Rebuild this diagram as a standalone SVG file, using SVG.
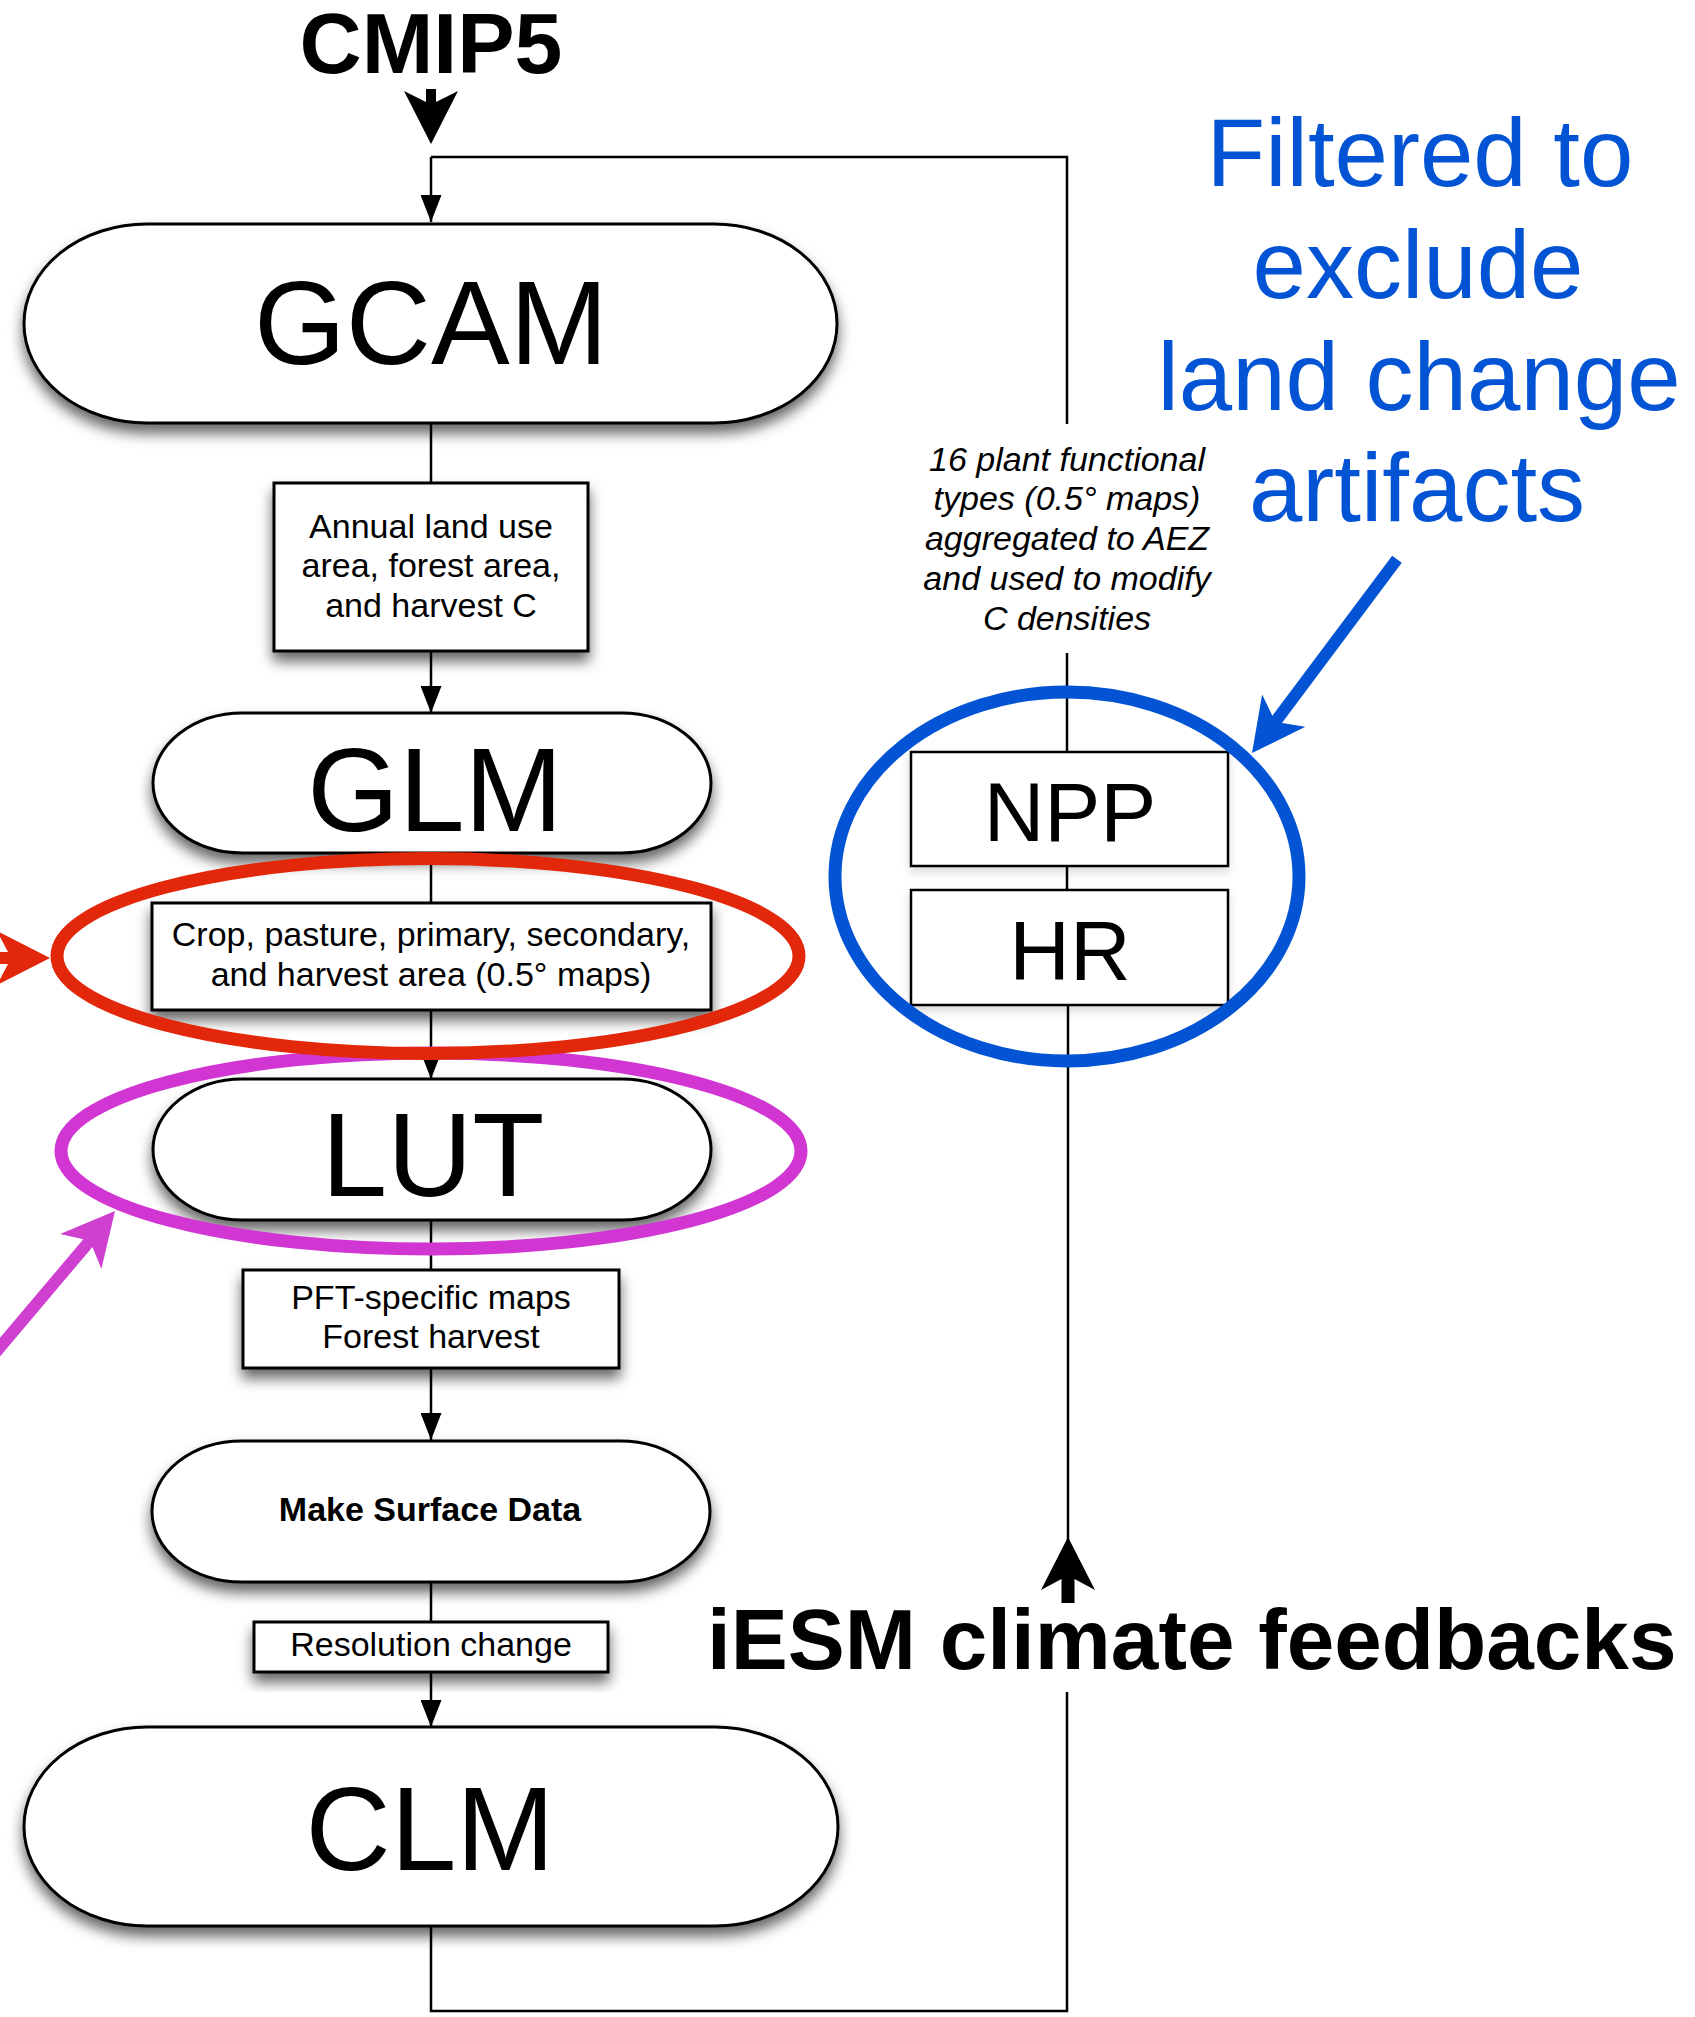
<svg xmlns="http://www.w3.org/2000/svg" width="1695" height="2017" viewBox="0 0 1695 2017">
<defs>
<style>
.node{fill:#fff;stroke:#000;stroke-width:3}
.thin{fill:#fff;stroke:#000;stroke-width:2.5}
.conn{fill:none;stroke:#000;stroke-width:2.5}
.t{font-family:"Liberation Sans",Arial,Helvetica,sans-serif;text-anchor:middle;fill:#000}
.big{font-size:118px}
.mid{font-size:84px}
.sm{font-size:34px}
.it{font-size:34px;font-style:italic}
.bold{font-weight:bold}
.blue{fill:#0254D5;font-size:96px}
.ring{fill:none;stroke-width:13}
</style>
<filter id="sh" x="-10%" y="-20%" width="120%" height="160%">
<feDropShadow dx="0" dy="9" stdDeviation="7" flood-color="#000" flood-opacity="0.6"/>
</filter>
<filter id="sh2" x="-10%" y="-20%" width="120%" height="160%">
<feDropShadow dx="0" dy="5" stdDeviation="5" flood-color="#000" flood-opacity="0.15"/>
</filter>
<marker id="ah" markerUnits="userSpaceOnUse" viewBox="0 0 27 21" markerWidth="27" markerHeight="21" refX="27" refY="10.5" orient="auto">
<path d="M0,0 L27,10.5 L0,21 Z" fill="#000"/>
</marker>
</defs>

<g id="connectors">
<line class="conn" x1="431" y1="157" x2="431" y2="222" marker-end="url(#ah)"/>
<polyline class="conn" points="431,157 1067,157 1067,424"/>
<line class="conn" x1="1067" y1="653" x2="1067" y2="752"/>
<line class="conn" x1="1067" y1="866" x2="1067" y2="890"/>
<line class="conn" x1="1068" y1="1005" x2="1068" y2="1545"/>
<polyline class="conn" points="431,1926 431,2011 1067,2011 1067,1692"/>
<line class="conn" x1="431" y1="423" x2="431" y2="483"/>
<line class="conn" x1="431" y1="651" x2="431" y2="713" marker-end="url(#ah)"/>
<line class="conn" x1="431" y1="853" x2="431" y2="903"/>
<line class="conn" x1="431" y1="1010" x2="431" y2="1079" marker-end="url(#ah)"/>
<line class="conn" x1="431" y1="1220" x2="431" y2="1270"/>
<line class="conn" x1="431" y1="1368" x2="431" y2="1440" marker-end="url(#ah)"/>
<line class="conn" x1="431" y1="1582" x2="431" y2="1622"/>
<line class="conn" x1="431" y1="1672" x2="431" y2="1727" marker-end="url(#ah)"/>
<text class="t it" x="1067" y="471">16 plant functional</text>
<text class="t it" x="1067" y="510">types (0.5° maps)</text>
<text class="t it" x="1067" y="550">aggregated to AEZ</text>
<text class="t it" x="1067" y="590">and used to modify</text>
<text class="t it" x="1067" y="630">C densities</text>
</g>

<g id="cmip5">
<text class="t bold" x="431" y="73" font-size="86">CMIP5</text>
<path transform="translate(431,144) rotate(90)" fill="#000" d="M0,0 L-53,-27 L-42,-5 L-55,-5 L-55,5 L-42,5 L-53,27 Z"/>
</g>

<g id="gcam">
<rect class="node" filter="url(#sh)" x="24" y="224" width="813" height="199" rx="123" ry="99.5"/>
<text class="t big" x="431" y="364">GCAM</text>
</g>

<g id="annual">
<rect class="node" filter="url(#sh)" x="274" y="483" width="314" height="168"/>
<text class="t sm" x="431" y="538">Annual land use</text>
<text class="t sm" x="431" y="577">area, forest area,</text>
<text class="t sm" x="431" y="617">and harvest C</text>
</g>

<g id="glm">
<rect class="node" filter="url(#sh)" x="153" y="713" width="558" height="140" rx="90" ry="70"/>
<text class="t big" x="435" y="831">GLM</text>
</g>

<g id="crop">
<rect class="node" filter="url(#sh)" x="152" y="903" width="559" height="107"/>
<text class="t sm" x="431" y="946">Crop, pasture, primary, secondary,</text>
<text class="t sm" x="431" y="986">and harvest area (0.5° maps)</text>
</g>

<g id="lut">
<rect class="node" filter="url(#sh)" x="153" y="1079" width="558" height="141" rx="90" ry="70.5"/>
<text class="t big" x="433" y="1196">LUT</text>
</g>

<g id="pft">
<rect class="node" filter="url(#sh)" x="243" y="1270" width="376" height="98"/>
<text class="t sm" x="431" y="1309">PFT-specific maps</text>
<text class="t sm" x="431" y="1348">Forest harvest</text>
</g>

<g id="msd">
<rect class="node" filter="url(#sh)" x="152" y="1441" width="558" height="141" rx="90" ry="70.5"/>
<text class="t sm bold" x="430" y="1521">Make Surface Data</text>
</g>

<g id="res">
<rect class="node" filter="url(#sh)" x="254" y="1622" width="354" height="50"/>
<text class="t sm" x="431" y="1656">Resolution change</text>
</g>

<g id="clm">
<rect class="node" filter="url(#sh)" x="24" y="1727" width="814" height="199" rx="123" ry="99.5"/>
<text class="t big" x="430" y="1870">CLM</text>
</g>

<g id="npp">
<rect class="thin" filter="url(#sh2)" x="911" y="752" width="317" height="114"/>
<text class="t mid" x="1070" y="841">NPP</text>
</g>

<g id="hr">
<rect class="thin" filter="url(#sh2)" x="911" y="890" width="317" height="115"/>
<text class="t mid" x="1070" y="980">HR</text>
</g>

<g id="iesm">
<path transform="translate(1068,1537) rotate(-90)" fill="#000" d="M0,0 L-53,-27 L-42,-6.5 L-66,-6.5 L-66,6.5 L-42,6.5 L-53,27 Z"/>
<text class="t bold" x="707" y="1669" font-size="85.5" style="text-anchor:start">iESM climate feedbacks</text>
</g>

<g id="highlights">
<ellipse class="ring" cx="431" cy="1151" rx="370" ry="98" stroke="#D136D3"/>
<ellipse class="ring" cx="428" cy="956" rx="371" ry="97.5" stroke="#E2270B"/>
<ellipse class="ring" cx="1067" cy="876.5" rx="232" ry="184.5" stroke="#0254D5"/>
<path transform="translate(50,958)" fill="#E2270B" d="M0,0 L-53,-27 L-42,-6 L-70,-6 L-70,6 L-42,6 L-53,27 Z"/>
<path transform="translate(115,1211) rotate(-49.8)" fill="#CF3FD0" d="M0,0 L-53,-27 L-42,-6 L-185,-6 L-185,6 L-42,6 L-53,27 Z"/>
<path transform="translate(1252,753) rotate(126.8)" fill="#0254D5" d="M0,0 L-53,-27 L-42,-6 L-242,-6 L-242,6 L-42,6 L-53,27 Z"/>
</g>

<g id="note">
<text class="t blue" x="1420" y="186">Filtered to</text>
<text class="t blue" x="1418" y="298">exclude</text>
<text class="t blue" x="1419" y="410">land change</text>
<text class="t blue" x="1417" y="521">artifacts</text>
</g>
</svg>
